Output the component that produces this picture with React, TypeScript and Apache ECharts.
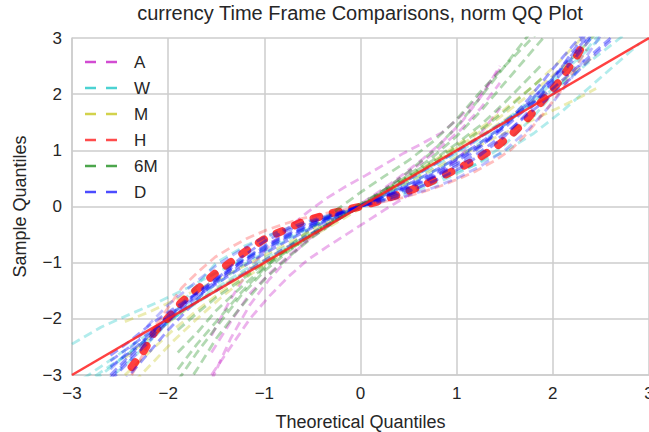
import React, { useEffect, useRef } from "react";
import * as echarts from "echarts";

// ---- tick labels ----
const X_TICKS = [-3, -2, -1, 0, 1, 2, 3];
const Y_TICKS = [-3, -2, -1, 0, 1, 2, 3];

// ---- theoretical quantiles per time frame ----
const QX_A = [-1.55, -1.35, -1.15, -0.95, -0.75, -0.55, -0.35, -0.15, 0.05, 0.25, 0.45, 0.65, 0.85, 1.05, 1.25, 1.45];
const QX_W = [-3.0, -2.7, -2.4, -2.1, -1.8, -1.5, -1.2, -0.9, -0.6, -0.3, 0, 0.3, 0.6, 0.9, 1.2, 1.5, 1.8, 2.1, 2.4, 2.7, 2.9];
const QX_M = [-2.45, -2.2, -1.95, -1.7, -1.45, -1.2, -0.95, -0.7, -0.45, -0.2, 0.05, 0.3, 0.55, 0.8, 1.05, 1.3, 1.55, 1.8, 2.05, 2.3, 2.45];
const QX_H = [-2.38, -2.25, -2.14, -2.0, -1.86, -1.68, -1.51, -1.34, -1.17, -0.98, -0.79, -0.6, -0.3, 0, 0.2, 0.44, 0.63, 0.84, 1.03, 1.2, 1.4, 1.57, 1.73, 1.9, 2.08, 2.25, 2.35];
const QX_6M = [-1.9, -1.7, -1.5, -1.25, -1.0, -0.75, -0.5, -0.25, 0, 0.25, 0.5, 0.75, 1.0, 1.25, 1.5, 1.7, 1.9];
const QX_D = [-2.6, -2.4, -2.2, -2.0, -1.75, -1.5, -1.25, -1.0, -0.75, -0.5, -0.25, 0, 0.25, 0.5, 0.75, 1.0, 1.25, 1.5, 1.75, 2.0, 2.2, 2.4, 2.6];

// ---- sample quantiles ----
const A_1 = [-2.3, -1.65, -1.1, -0.7, -0.38, -0.1, 0.15, 0.36, 0.55, 0.75, 0.95, 1.13, 1.32, 1.62, 2.0, 2.45];
const A_2 = [-3.0, -2.5, -2.0, -1.6, -1.25, -0.95, -0.72, -0.5, -0.28, -0.06, 0.15, 0.38, 0.62, 0.92, 1.3, 1.75];
const A_3 = [-3.1, -2.35, -1.75, -1.3, -0.92, -0.6, -0.35, -0.12, 0.1, 0.33, 0.58, 0.85, 1.15, 1.5, 1.95, 2.5];
const A_4 = [-2.6, -2.05, -1.55, -1.2, -0.88, -0.6, -0.36, -0.14, 0.08, 0.3, 0.55, 0.8, 1.08, 1.38, 1.75, 2.2];

const W_1 = [-2.45, -2.15, -1.92, -1.7, -1.45, -1.18, -0.92, -0.66, -0.42, -0.2, 0.0, 0.18, 0.36, 0.55, 0.75, 0.98, 1.3, 1.7, 2.15, 2.6, 2.9];
const W_2 = [-3.6, -3.2, -2.75, -2.25, -1.6, -1.0, -0.7, -0.48, -0.3, -0.15, 0.0, 0.14, 0.3, 0.5, 0.75, 1.1, 1.6, 2.2, 2.9, 3.5, 3.9];
const W_3 = [-3.2, -2.85, -2.5, -2.15, -1.82, -1.5, -1.18, -0.88, -0.58, -0.28, 0.0, 0.28, 0.58, 0.88, 1.2, 1.52, 1.85, 2.2, 2.6, 3.0, 3.3];
const W_4 = [-3.3, -2.95, -2.6, -2.2, -1.78, -1.38, -1.02, -0.72, -0.45, -0.2, 0.02, 0.24, 0.48, 0.76, 1.08, 1.45, 1.88, 2.38, 2.85, 3.3, 3.6];
const W_5 = [-3.4, -3.0, -2.6, -2.2, -1.8, -1.45, -1.12, -0.82, -0.55, -0.27, 0.0, 0.26, 0.54, 0.84, 1.16, 1.52, 1.95, 2.45, 3.0, 3.5, 3.8];

const M_1 = [-2.05, -1.88, -1.68, -1.48, -1.27, -1.05, -0.83, -0.6, -0.38, -0.15, 0.06, 0.27, 0.48, 0.7, 0.92, 1.14, 1.35, 1.55, 1.75, 1.96, 2.1];
const M_2 = [-3.3, -2.85, -2.4, -2.0, -1.62, -1.28, -0.98, -0.72, -0.48, -0.24, 0.02, 0.28, 0.55, 0.82, 1.1, 1.4, 1.72, 2.05, 2.4, 2.8, 3.1];
const M_3 = [-3.0, -2.6, -2.2, -1.85, -1.52, -1.22, -0.94, -0.68, -0.43, -0.18, 0.06, 0.32, 0.58, 0.86, 1.15, 1.46, 1.8, 2.15, 2.55, 3.0, 3.3];
const M_4 = [-2.7, -2.35, -2.0, -1.7, -1.42, -1.16, -0.9, -0.66, -0.42, -0.18, 0.05, 0.3, 0.55, 0.8, 1.06, 1.32, 1.6, 1.88, 2.18, 2.5, 2.7];

const H_1 = [-2.86, -2.56, -2.23, -1.98, -1.7, -1.45, -1.19, -0.98, -0.77, -0.56, -0.42, -0.27, -0.12, 0.0, 0.1, 0.24, 0.36, 0.53, 0.69, 0.83, 1.05, 1.28, 1.55, 1.9, 2.25, 2.68, 3.0];
const H_2 = [-3.0, -2.6, -2.15, -1.8, -1.45, -1.15, -0.9, -0.72, -0.56, -0.42, -0.31, -0.21, -0.1, 0.0, 0.07, 0.16, 0.25, 0.37, 0.5, 0.63, 0.82, 1.02, 1.3, 1.65, 2.05, 2.5, 2.8];

const G_1 = [-3.4, -2.9, -2.35, -1.8, -1.3, -0.9, -0.55, -0.25, 0.02, 0.3, 0.62, 0.98, 1.42, 1.95, 2.5, 2.95, 3.4];
const G_2 = [-2.9, -2.45, -2.05, -1.55, -1.1, -0.72, -0.38, -0.06, 0.25, 0.54, 0.82, 1.15, 1.55, 2.05, 2.5, 2.85, 3.2];
const G_3 = [-3.1, -2.6, -2.15, -1.6, -1.15, -0.8, -0.48, -0.2, 0.05, 0.3, 0.55, 0.82, 1.12, 1.45, 1.85, 2.2, 2.55];
const G_4 = [-2.2, -1.9, -1.62, -1.32, -1.02, -0.76, -0.5, -0.25, 0.0, 0.26, 0.52, 0.78, 1.06, 1.36, 1.7, 2.0, 2.3];
const G_5 = [-2.6, -2.25, -1.85, -1.45, -1.08, -0.78, -0.5, -0.24, 0.02, 0.28, 0.56, 0.88, 1.25, 1.7, 2.2, 2.6, 3.0];

const D_1 = [-3.3, -3.0, -2.6, -2.2, -1.75, -1.3, -0.92, -0.62, -0.42, -0.27, -0.13, 0.0, 0.12, 0.27, 0.44, 0.65, 0.92, 1.25, 1.7, 2.25, 2.75, 3.2, 3.6];
const D_2 = [-3.1, -2.75, -2.4, -2.05, -1.68, -1.35, -1.05, -0.78, -0.55, -0.35, -0.17, 0.0, 0.17, 0.36, 0.56, 0.8, 1.08, 1.4, 1.78, 2.2, 2.58, 3.0, 3.4];
const D_3 = [-2.75, -2.5, -2.25, -2.0, -1.75, -1.5, -1.23, -0.96, -0.71, -0.47, -0.23, 0.0, 0.24, 0.48, 0.73, 0.98, 1.24, 1.52, 1.8, 2.1, 2.4, 2.7, 3.0];
const D_4 = [-2.65, -2.4, -2.12, -1.88, -1.6, -1.3, -1.0, -0.72, -0.5, -0.3, -0.14, 0.02, 0.18, 0.34, 0.52, 0.72, 0.98, 1.3, 1.65, 2.0, 2.3, 2.65, 2.95];
const D_5 = [-2.9, -2.55, -2.1, -1.75, -1.4, -1.05, -0.78, -0.55, -0.38, -0.24, -0.11, 0.0, 0.1, 0.2, 0.33, 0.5, 0.72, 1.0, 1.38, 1.85, 2.3, 2.8, 3.3];
const D_6 = [-3.0, -2.65, -2.3, -1.95, -1.6, -1.28, -0.98, -0.7, -0.48, -0.3, -0.15, 0.0, 0.15, 0.32, 0.52, 0.76, 1.06, 1.45, 1.92, 2.45, 2.85, 3.25, 3.6];
const D_7 = [-3.05, -2.7, -2.35, -2.02, -1.62, -1.33, -1.0, -0.76, -0.52, -0.33, -0.15, 0.01, 0.19, 0.38, 0.58, 0.84, 1.1, 1.44, 1.84, 2.28, 2.65, 3.05, 3.45];
const D_8 = [-2.85, -2.6, -2.3, -1.95, -1.65, -1.38, -1.1, -0.84, -0.6, -0.38, -0.19, 0.0, 0.2, 0.4, 0.62, 0.86, 1.14, 1.46, 1.85, 2.3, 2.7, 3.1, 3.5];

const REF_LINE = [-3, 3];

const NAMES = ["A", "W", "M", "H", "6M", "D"];
const COLORS: Record<string, string> = {
  A: "#bf00bf",
  W: "#00bfbf",
  M: "#bfbf00",
  H: "#ff0000",
  "6M": "#008000",
  D: "#0000ff",
};

const FONT = "'Liberation Sans', Arial, sans-serif";
const TEXT = "#262626";

function pairs(xs: number[], ys: number[]) {
  return xs.map((x, i) => [x, ys[i]]);
}

function fmt(v: number) {
  return v < 0 ? "\u2212" + Math.abs(v) : String(v);
}

function qqLine(name: string, xs: number[], ys: number[], extra: any = {}) {
  return {
    type: "line",
    name,
    data: pairs(xs, ys),
    showSymbol: false,
    symbol: "none",
    silent: true,
    clip: true,
    z: 2,
    emphasis: { disabled: true },
    lineStyle: {
      color: COLORS[name],
      width: 2.8,
      opacity: 0.3,
      type: [9, 5],
      ...(extra.lineStyle || {}),
    },
  };
}

export default function App() {
  const ref = useRef<HTMLDivElement>(null);

  useEffect(() => {
    if (!ref.current) return;
    const chart = echarts.init(ref.current, undefined, { renderer: "svg" });

    const dStyle = { lineStyle: { opacity: 0.38 } };

    const series: any[] = [
      qqLine("A", QX_A, A_1),
      qqLine("A", QX_A, A_2),
      qqLine("A", QX_A, A_3),
      qqLine("A", QX_A, A_4),
      qqLine("W", QX_W, W_1),
      qqLine("W", QX_W, W_2),
      qqLine("W", QX_W, W_3),
      qqLine("W", QX_W, W_4),
      qqLine("W", QX_W, W_5),
      qqLine("M", QX_M, M_1),
      qqLine("M", QX_M, M_2),
      qqLine("M", QX_M, M_3),
      qqLine("M", QX_M, M_4),
      qqLine("H", QX_H, H_1, { lineStyle: { width: 8, opacity: 0.75, type: [6, 14], cap: "round" } }),
      qqLine("H", QX_H, H_2, { lineStyle: { opacity: 0.25 } }),
      qqLine("6M", QX_6M, G_1),
      qqLine("6M", QX_6M, G_2),
      qqLine("6M", QX_6M, G_3),
      qqLine("6M", QX_6M, G_4),
      qqLine("6M", QX_6M, G_5),
      qqLine("D", QX_D, D_1, dStyle),
      qqLine("D", QX_D, D_2, dStyle),
      qqLine("D", QX_D, D_3, dStyle),
      qqLine("D", QX_D, D_4, dStyle),
      qqLine("D", QX_D, D_5, { lineStyle: { opacity: 0.25 } }),
      qqLine("D", QX_D, D_6, dStyle),
      qqLine("D", QX_D, D_7, dStyle),
      qqLine("D", QX_D, D_8, dStyle),
      {
        type: "line",
        name: "ref",
        data: pairs(REF_LINE, REF_LINE),
        showSymbol: false,
        symbol: "none",
        silent: true,
        z: 3,
        lineStyle: { color: "#ff2020", width: 2.5, opacity: 0.85, type: "solid" },
      },
    ];

    const axisCommon = {
      type: "value",
      min: -3,
      max: 3,
      interval: 1,
      axisLine: { show: true, onZero: false, lineStyle: { color: "#cccccc", width: 1.5 } },
      axisTick: { show: false },
      splitLine: { show: true, lineStyle: { color: "#cccccc", width: 1.5 } },
      axisLabel: {
        color: TEXT,
        fontSize: 17,
        fontFamily: FONT,
        margin: 10,
        formatter: fmt,
      },
      nameTextStyle: { color: TEXT, fontSize: 18, fontFamily: FONT },
      nameLocation: "middle",
    };

    chart.setOption({
      animation: false,
      backgroundColor: "#ffffff",
      title: {
        text: "currency Time Frame Comparisons, norm QQ Plot",
        left: 360,
        textAlign: "center",
        top: 3,
        padding: 0,
        textStyle: { color: TEXT, fontSize: 20, fontWeight: "normal", fontFamily: FONT },
      },
      legend: {
        orient: "vertical",
        left: 80,
        top: 47,
        itemWidth: 32,
        itemHeight: 14,
        itemGap: 6,
        selectedMode: false,
        data: NAMES.map((n) => ({
          name: n,
          icon: "path://M0 0H11V2.5H0Z M21 0H32V2.5H21Z",
          itemStyle: { color: COLORS[n], opacity: 0.7 },
        })),
        textStyle: {
          color: TEXT,
          fontSize: 17,
          fontFamily: FONT,
          lineHeight: 20,
          padding: [0, 0, 0, 12],
        },
      },
      grid: { left: 72, right: 0, top: 38, bottom: 57, containLabel: false, outerBoundsMode: "none" },
      xAxis: { ...axisCommon, name: "Theoretical Quantiles", nameGap: 38 },
      yAxis: { ...axisCommon, name: "Sample Quantiles", nameGap: 43 },
      series,
    });

    return () => chart.dispose();
  }, []);

  return (
    <div
      ref={ref}
      style={{ position: "absolute", left: 0, top: 0, width: 649, height: 432 }}
    />
  );
}
